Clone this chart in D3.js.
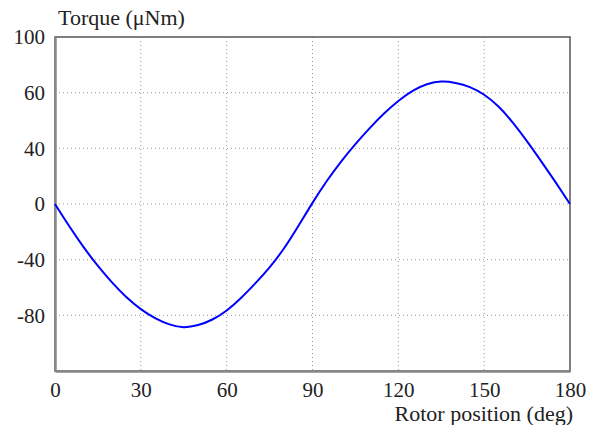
<!DOCTYPE html>
<html>
<head>
<meta charset="utf-8">
<script src="https://cdn.jsdelivr.net/npm/d3@7"></script>
<style>
  body { margin: 0; background: #fff; }
  text { font-family: "Liberation Serif", "Times New Roman", serif; fill: #222; }
</style>
</head>
<body>
<svg id="chart"></svg>
<script>
// Rotor position (deg) and torque
const positions = [0, 5, 10, 15, 20, 25, 30, 35, 40, 45, 50, 55, 60, 65, 70, 75, 80, 85, 90,
                   95, 100, 105, 110, 115, 120, 125, 130, 135, 140, 145, 150, 155, 160, 165, 170, 175, 180];
const torque = [0, -16, -31, -44.5, -56.5, -67, -75.5, -82, -86.5, -88.5, -87, -83, -76.5, -67.5, -57, -45.5, -32, -16, 0.8,
                16.5, 30.5, 43, 54.5, 65, 74, 81.3, 86, 88, 87, 84, 78.5, 70, 58.5, 45, 30.5, 15.5, 0];

const xTicks = [0, 30, 60, 90, 120, 150, 180];
const yTicks = [120, 80, 40, 0, -40, -80];
const yTickLabels = ["100", "60", "40", "0", "-40", "-80"];

const width = 598, height = 425;
const margin = { top: 37, right: 28, bottom: 54, left: 55 };

const svg = d3.select("#chart")
    .attr("width", width)
    .attr("height", height);

const x = d3.scaleLinear().domain([0, 180]).range([margin.left, width - margin.right]);
const y = d3.scaleLinear().domain([-120, 120]).range([height - margin.bottom, margin.top]);

// dotted grid
svg.append("g")
    .selectAll("line")
    .data(xTicks.slice(1, -1))
    .enter().append("line")
    .attr("x1", d => x(d)).attr("x2", d => x(d))
    .attr("y1", y(120)).attr("y2", y(-120))
    .attr("stroke", "#999")
    .attr("stroke-width", 1)
    .attr("stroke-dasharray", "1,3");

svg.append("g")
    .selectAll("line")
    .data(yTicks.slice(1))
    .enter().append("line")
    .attr("x1", x(0)).attr("x2", x(180))
    .attr("y1", d => y(d)).attr("y2", d => y(d))
    .attr("stroke", "#999")
    .attr("stroke-width", 1)
    .attr("stroke-dasharray", "1,3");

// frame
svg.append("rect")
    .attr("x", x(0)).attr("y", y(120))
    .attr("width", x(180) - x(0))
    .attr("height", y(-120) - y(120))
    .attr("fill", "none")
    .attr("stroke", "#555")
    .attr("stroke-width", 1.5);

// axes (no tick marks, just labels)
const xAxis = svg.append("g")
    .attr("transform", `translate(0,${y(-120)})`)
    .call(d3.axisBottom(x).tickValues(xTicks).tickSize(0).tickPadding(11));
xAxis.select(".domain").attr("stroke", "#888").attr("stroke-width", 2.5);
xAxis.selectAll("text").attr("font-size", 21).attr("font-family", "Liberation Serif").attr("fill", "#222");

const yAxis = svg.append("g")
    .attr("transform", `translate(${x(0)},0)`)
    .call(d3.axisLeft(y).tickValues(yTicks).tickSize(0).tickPadding(10)
        .tickFormat((d, i) => yTickLabels[i]));
yAxis.select(".domain").attr("stroke", "#888").attr("stroke-width", 2.5);
yAxis.selectAll("text").attr("font-size", 21).attr("font-family", "Liberation Serif").attr("fill", "#222");

// curve
const line = d3.line()
    .x((d, i) => x(positions[i]))
    .y(d => y(d))
    .curve(d3.curveNatural);

svg.append("path")
    .datum(torque)
    .attr("fill", "none")
    .attr("stroke", "#0000ff")
    .attr("stroke-width", 2)
    .attr("d", line);

// axis titles
svg.append("text")
    .attr("x", 58).attr("y", 25)
    .attr("font-size", 22)
    .text("Torque (μNm)");

svg.append("text")
    .attr("x", 573).attr("y", 421)
    .attr("text-anchor", "end")
    .attr("font-size", 22)
    .text("Rotor position (deg)");
</script>
</body>
</html>
